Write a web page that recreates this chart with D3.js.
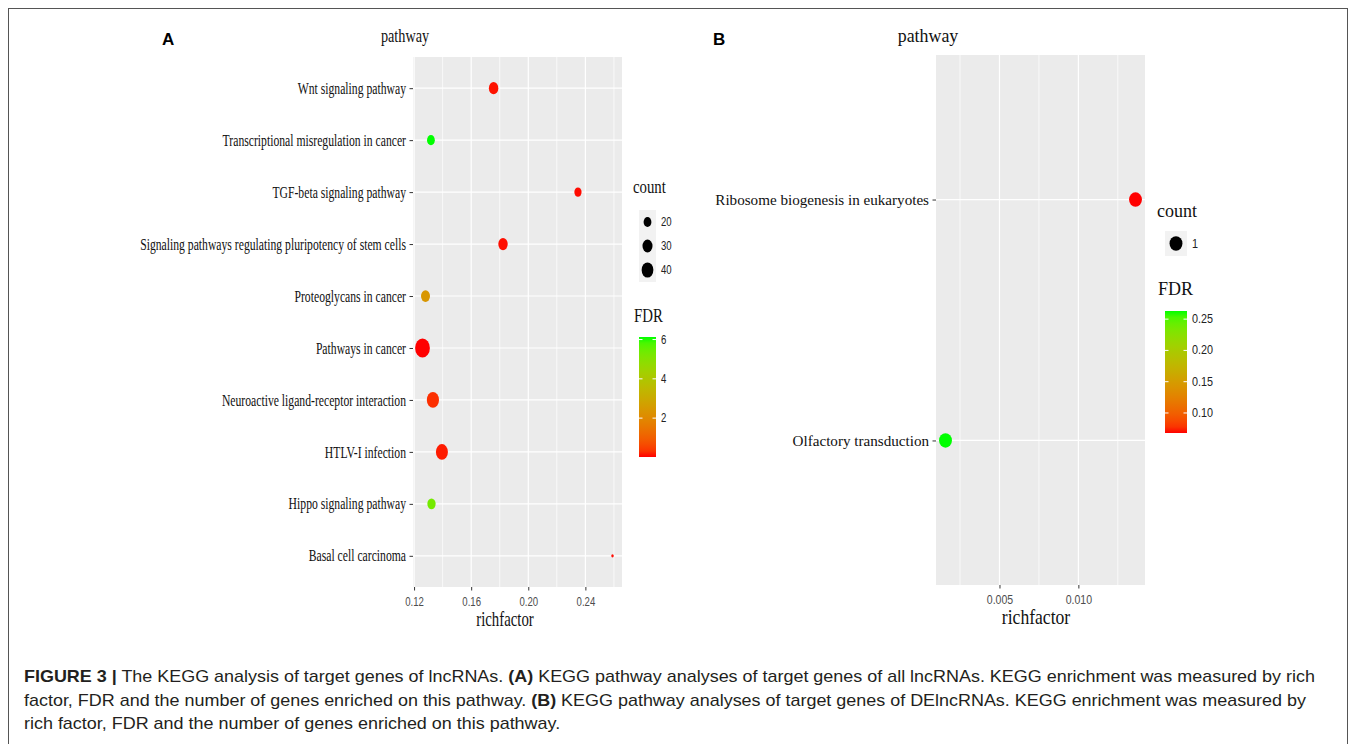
<!DOCTYPE html>
<html>
<head>
<meta charset="utf-8">
<script src="https://cdn.jsdelivr.net/npm/d3@7"></script>
<style>
  body { margin: 0; background: #fff; }
  svg { display: block; }
</style>
</head>
<body>
<svg id="fig" width="1357" height="744"></svg>
<script>
// ---- panel A: all lncRNAs ----
const pathwaysA = [
    'Basal cell carcinoma',
    'Hippo signaling pathway',
    'HTLV-I infection',
    'Neuroactive ligand-receptor interaction',
    'Pathways in cancer',
    'Proteoglycans in cancer',
    'Signaling pathways regulating pluripotency of stem cells',
    'TGF-beta signaling pathway',
    'Transcriptional misregulation in cancer',
    'Wnt signaling pathway'
];
const richA = [0.259, 0.1322, 0.1395, 0.1332, 0.1259, 0.128, 0.1823, 0.2348, 0.1318, 0.1757];
const countA = [10, 22, 42, 43, 63, 25, 27, 18, 20, 27];
const fdrA = [0.05, 5.3, 0.12, 0.28, 0.02, 2.4, 0.06, 0.05, 6.13, 0.08];
const richTicksA = [0.12, 0.16, 0.2, 0.24];
const richMinorA = [0.14, 0.18, 0.22, 0.26];
const countTicksA = [20, 30, 40];
const fdrTicksA = [2, 4, 6];

// ---- panel B: DElncRNAs ----
const pathwaysB = ['Olfactory transduction', 'Ribosome biogenesis in eukaryotes'];
const richB = [0.00158, 0.01362];
const countB = [1, 1];
const fdrB = [0.263, 0.068];
const richTicksB = [0.005, 0.01];
const richMinorB = [0.0025, 0.0075, 0.0125];
const countTicksB = [1];
const fdrTicksB = [0.1, 0.15, 0.2, 0.25];

const serif = '"Liberation Serif", "Times New Roman", serif';
const sans = '"Liberation Sans", Arial, Helvetica, sans-serif';

const svg = d3.select('#fig');

// frame round the figure
svg.append('rect')
    .attr('x', 8.5).attr('y', 8.5)
    .attr('width', 1339).attr('height', 760)
    .attr('fill', 'none')
    .attr('stroke', '#555')
    .attr('stroke-width', 1);

// text squeezed horizontally around its anchor point
const label = (g, str, x, y, font, size, sx, anchor, weight) =>
    g.append('text')
        .attr('transform', `translate(${x},${y}) scale(${sx},1)`)
        .attr('text-anchor', anchor || 'start')
        .attr('font-family', font)
        .attr('font-size', size)
        .attr('font-weight', weight || 'normal')
        .attr('fill', '#111')
        .text(str);

// ggplot style area scale: sqrt of the rescaled count
const sizeScale = counts => {
    const [lo, hi] = d3.extent(counts);
    const t = lo === hi ? () => 0.5 : d3.scaleLinear().domain([lo, hi]).range([0, 1]);
    const r = d3.scaleLinear().domain([0, 1]).range([1.6, 9.6]);
    return c => r(Math.sqrt(t(c)));
};

const colourScale = fdr =>
    d3.scaleLinear()
        .domain(d3.extent(fdr))
        .range(['#ff0000', '#00ff00'])
        .interpolate(d3.interpolateLab);

const drawPanel = p => {
    const g = svg.append('g');
    const ext = d3.extent(p.rich);
    const pad = (ext[1] - ext[0]) * 0.05;
    const x = d3.scaleLinear().domain([ext[0] - pad, ext[1] + pad]).range([p.left, p.right]);
    const y = d3.scalePoint()
        .domain(p.cats.slice().reverse())
        .range([p.top, p.bottom])
        .padding(0.6);
    const r = sizeScale(p.count);
    const colour = colourScale(p.fdr);

    g.append('rect')
        .attr('x', p.left).attr('y', p.top)
        .attr('width', p.right - p.left).attr('height', p.bottom - p.top)
        .attr('fill', '#ebebeb');

    g.selectAll('.minor').data(p.minor.filter(v => x(v) < p.right)).join('line')
        .attr('x1', d => x(d)).attr('x2', d => x(d))
        .attr('y1', p.top).attr('y2', p.bottom)
        .attr('stroke', '#fff').attr('stroke-width', 0.7);

    g.selectAll('.major').data(p.majors).join('line')
        .attr('x1', d => x(d)).attr('x2', d => x(d))
        .attr('y1', p.top).attr('y2', p.bottom)
        .attr('stroke', '#fff').attr('stroke-width', 1.2);

    g.selectAll('.hgrid').data(p.cats).join('line')
        .attr('x1', p.left).attr('x2', p.right)
        .attr('y1', d => y(d)).attr('y2', d => y(d))
        .attr('stroke', '#fff').attr('stroke-width', 1.2);

    g.selectAll('ellipse').data(p.cats).join('ellipse')
        .attr('cx', (d, i) => x(p.rich[i]))
        .attr('cy', d => y(d))
        .attr('rx', (d, i) => r(p.count[i]) * p.aspect)
        .attr('ry', (d, i) => r(p.count[i]))
        .attr('fill', (d, i) => colour(p.fdr[i]));

    // y axis
    const ya = g.append('g')
        .attr('transform', `translate(${p.left},0)`)
        .call(d3.axisLeft(y).tickSize(3.5).tickPadding(3.5));
    ya.select('.domain').remove();
    ya.selectAll('line').attr('stroke', '#333');
    const yt = ya.selectAll('text')
        .attr('font-family', serif)
        .attr('font-size', p.catSize)
        .attr('fill', '#111');
    const longest = d3.max(yt.nodes(), n => n.getComputedTextLength());
    const sx = p.catWidth / longest;
    yt.attr('x', 0).attr('transform', `translate(-7,0) scale(${sx},1)`);

    // x axis
    const xa = g.append('g')
        .attr('transform', `translate(0,${p.bottom})`)
        .call(d3.axisBottom(x).tickValues(p.majors).tickFormat(d3.format(p.fmt)).tickSize(3.5).tickPadding(7));
    xa.select('.domain').remove();
    xa.selectAll('line').attr('stroke', '#333');
    xa.selectAll('text')
        .attr('font-family', sans)
        .attr('font-size', 12)
        .attr('fill', '#4d4d4d')
        .attr('transform', `scale(${p.tickSx},1)`);

    label(g, p.tag, p.tagX, 45, sans, 17, 1, 'start', 'bold').attr('fill', '#000');
    label(g, 'pathway', p.titleX, 42, serif, 19, p.titleSx, 'middle');
    label(g, 'richfactor', p.xTitleX, p.xTitleY, serif, 20, p.xTitleSx, 'middle');

    return { r, colour };
};

const drawLegend = (p, r, colour) => {
    const g = svg.append('g');

    label(g, 'count', p.lx, p.countY, serif, p.titleSize, p.titleSx);
    g.append('rect')
        .attr('x', p.keyX).attr('y', p.keyTop)
        .attr('width', p.keyW).attr('height', p.keyH)
        .attr('fill', '#f2f2f2');
    const ky = d3.scalePoint()
        .domain(p.countTicks)
        .range([p.keyTop, p.keyTop + p.keyH])
        .padding(0.5);
    g.selectAll('ellipse').data(p.countTicks).join('ellipse')
        .attr('cx', p.keyX + p.keyW / 2)
        .attr('cy', d => ky(d))
        .attr('rx', d => r(d) * p.aspect)
        .attr('ry', d => r(d))
        .attr('fill', '#000');
    p.countTicks.forEach(d =>
        label(g, d, p.keyX + p.keyW + 5, ky(d) + 4, sans, 12, p.tickSx).attr('fill', '#222'));

    label(g, 'FDR', p.lx + 1, p.fdrY, serif, p.titleSize, p.titleSx);
    const dom = colour.domain();
    const gid = 'grad' + p.id;
    const grad = svg.append('defs').append('linearGradient')
        .attr('id', gid)
        .attr('x1', 0).attr('y1', 1).attr('x2', 0).attr('y2', 0);
    d3.range(0, 1.0001, 0.05).forEach(t =>
        grad.append('stop')
            .attr('offset', t)
            .attr('stop-color', colour(dom[0] + t * (dom[1] - dom[0]))));
    g.append('rect')
        .attr('x', p.keyX).attr('y', p.barTop)
        .attr('width', p.keyW).attr('height', p.barBottom - p.barTop)
        .attr('fill', `url(#${gid})`);
    const cy = d3.scaleLinear().domain(dom).range([p.barBottom, p.barTop]);
    p.fdrTicks.forEach(d => {
        [[p.keyX, p.keyX + 3.5], [p.keyX + p.keyW - 3.5, p.keyX + p.keyW]].forEach(([a, b]) =>
            g.append('line')
                .attr('x1', a).attr('x2', b)
                .attr('y1', cy(d)).attr('y2', cy(d))
                .attr('stroke', '#fff').attr('stroke-width', 1));
        label(g, d3.format(p.fmt)(d), p.keyX + p.keyW + 5, cy(d) + 4, sans, 12, p.tickSx).attr('fill', '#222');
    });
};

const a = drawPanel({
    tag: 'A', tagX: 162,
    cats: pathwaysA, rich: richA, count: countA, fdr: fdrA,
    majors: richTicksA, minor: richMinorA, fmt: '.2f',
    left: 413, right: 622, top: 57, bottom: 587,
    aspect: 0.77, catSize: 16, catWidth: 266, tickSx: 0.8,
    titleX: 405, titleSx: 0.75,
    xTitleX: 505, xTitleY: 626, xTitleSx: 0.74
});
drawLegend({
    id: 'A', lx: 633, countY: 193, fdrY: 322, titleSize: 18.5, titleSx: 0.8,
    keyX: 639, keyW: 17, keyTop: 210, keyH: 72,
    barTop: 337, barBottom: 457,
    countTicks: countTicksA, fdrTicks: fdrTicksA, fmt: 'd',
    aspect: 0.77, tickSx: 0.8
}, a.r, a.colour);

const b = drawPanel({
    tag: 'B', tagX: 713,
    cats: pathwaysB, rich: richB, count: countB, fdr: fdrB,
    majors: richTicksB, minor: richMinorB, fmt: '.3f',
    left: 936, right: 1145, top: 55, bottom: 585,
    aspect: 0.89, catSize: 15.5, catWidth: 214, tickSx: 0.88,
    titleX: 928, titleSx: 0.94,
    xTitleX: 1036, xTitleY: 624, xTitleSx: 0.88
});
drawLegend({
    id: 'B', lx: 1157, countY: 217, fdrY: 295, titleSize: 18, titleSx: 1,
    keyX: 1165, keyW: 22, keyTop: 231, keyH: 25,
    barTop: 311, barBottom: 433,
    countTicks: countTicksB, fdrTicks: fdrTicksB, fmt: '.2f',
    aspect: 0.89, tickSx: 0.9
}, b.r, b.colour);

// ---- caption ----
const captionLines = [
    [['FIGURE 3 |', true], [' The KEGG analysis of target genes of lncRNAs. ', false], ['(A)', true],
     [' KEGG pathway analyses of target genes of all lncRNAs. KEGG enrichment was measured by rich', false]],
    [['factor, FDR and the number of genes enriched on this pathway. ', false], ['(B)', true],
     [' KEGG pathway analyses of target genes of DElncRNAs. KEGG enrichment was measured by', false]],
    [['rich factor, FDR and the number of genes enriched on this pathway.', false]]
];
const captionY = [682, 706, 729];

const cap = svg.append('g');
const capTexts = captionLines.map((parts, i) => {
    const t = cap.append('text')
        .attr('font-family', sans)
        .attr('font-size', 17)
        .attr('fill', '#231f20');
    parts.forEach(([s, bold]) =>
        t.append('tspan').attr('font-weight', bold ? 'bold' : 'normal').text(s));
    return t;
});
const capSx = 1292 / capTexts[0].node().getComputedTextLength();
capTexts.forEach((t, i) => t.attr('transform', `translate(24,${captionY[i]}) scale(${capSx},1)`));
</script>
</body>
</html>
